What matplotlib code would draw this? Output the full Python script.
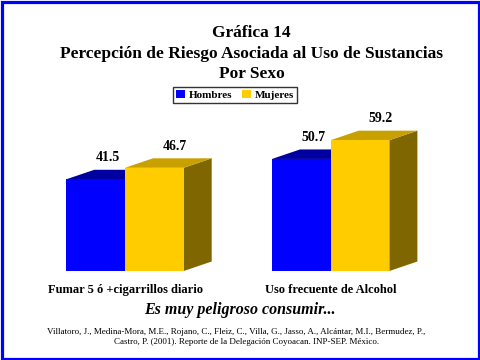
import matplotlib
matplotlib.use("Agg")
import matplotlib.pyplot as plt
from matplotlib.patches import Polygon, Rectangle, Patch

# ---------------- data ----------------
categories = ["Fumar 5 ó +cigarrillos diario", "Uso frecuente de Alcohol"]
series_names = ["Hombres", "Mujeres"]
hombres = [41.5, 50.7]
mujeres = [46.7, 59.2]
value_labels = [["41.5", "50.7"], ["46.7", "59.2"]]
title_lines = ["Gráfica 14", "Percepción de Riesgo Asociada al Uso de Sustancias", "Por Sexo"]
subtitle = "Es muy peligroso consumir..."
citation = ["Villatoro, J., Medina-Mora, M.E., Rojano, C., Fleiz, C., Villa, G., Jasso, A., Alcántar, M.I., Bermudez, P.,",
            "Castro, P. (2001). Reporte de la Delegación Coyoacan. INP-SEP. México."]

# ---------------- style ----------------
W, H = 480, 360
SERIF = "Liberation Serif"
front_cols = ["#0000FF", "#FFCC00"]
top_cols = ["#0000A0", "#C8A000"]
side_cols = ["#000080", "#806600"]

fig = plt.figure(figsize=(W / 100, H / 100), dpi=100)
fig.patch.set_facecolor("white")

def fx(px):
    return px / W

def fy(py):
    return 1 - py / H

# axes: baseline at y=271px, 2.21 px per unit
base_px = 271
ppu = 2.21
ax_h = 0.42
ax = fig.add_axes([0, fy(base_px), 1, ax_h])
ax.set_ylim(0, ax_h * H / ppu)
grp = 205.7  # px between group centers
c0 = 125
ax.set_xlim(-c0 / grp, (W - c0) / grp)
ax.axis("off")

bw = 58.7 / grp
dx = 28 / grp
dy = 9.5 / ppu

series = [hombres, mujeres]
label_off = [12 / grp, 21 / grp]
for s, vals in enumerate(series):
    for i, v in enumerate(vals):
        x0 = i - bw + s * bw
        x1 = x0 + bw
        # side
        ax.add_patch(Polygon([(x1, 0), (x1 + dx, dy), (x1 + dx, v + dy), (x1, v)],
                             closed=True, facecolor=side_cols[s], edgecolor="none"))
        # top
        ax.add_patch(Polygon([(x0, v), (x1, v), (x1 + dx, v + dy), (x0 + dx, v + dy)],
                             closed=True, facecolor=top_cols[s], edgecolor="none"))
        # front
        ax.add_patch(Rectangle((x0, 0), bw, v, facecolor=front_cols[s], edgecolor="none"))
        ax.annotate(value_labels[s][i], xy=(x0 + bw / 2 + label_off[s], v + dy),
                    xytext=(0, 4), textcoords="offset points",
                    ha="center", va="bottom", fontsize=10, fontweight="bold",
                    family=SERIF)

for i, c in enumerate(categories):
    ax.annotate(c, xy=(i, 0), xytext=(0, -9.5), textcoords="offset points",
                ha="center", va="top", fontsize=9, fontweight="bold", family=SERIF)

# titles
ty = [37, 58, 78]
for t, y in zip(title_lines, ty):
    fig.text(fx(251.5), fy(y), t, ha="center", va="baseline", fontsize=12.5,
             fontweight="bold", family=SERIF)

fig.text(fx(240), fy(314), subtitle, ha="center", va="baseline", fontsize=11.5,
         fontweight="bold", style="italic", family=SERIF)
fig.text(fx(236.5), fy(334), citation[0], ha="center", va="baseline", fontsize=6.5, family=SERIF)
fig.text(fx(246.5), fy(344), citation[1], ha="center", va="baseline", fontsize=6.5, family=SERIF)

# legend
handles = [Patch(facecolor=front_cols[k], edgecolor="none") for k in range(2)]
leg = fig.legend(handles, series_names, loc="center", bbox_to_anchor=(fx(235), fy(95)),
                 ncol=2, frameon=True, fancybox=False, handlelength=0.8, handleheight=0.8,
                 handletextpad=0.3, columnspacing=0.9, borderpad=0.3,
                 prop={"family": SERIF, "weight": "bold", "size": 8})
leg.get_frame().set_edgecolor("black")
leg.get_frame().set_linewidth(1.0)

# blue border
fig.add_artist(Rectangle((fx(1.5), fy(358.5)), fx(477), 357 / H,
                         transform=fig.transFigure, fill=False, edgecolor="#0000FF",
                         linewidth=2.3))

fig.savefig("out.png", dpi=100)
